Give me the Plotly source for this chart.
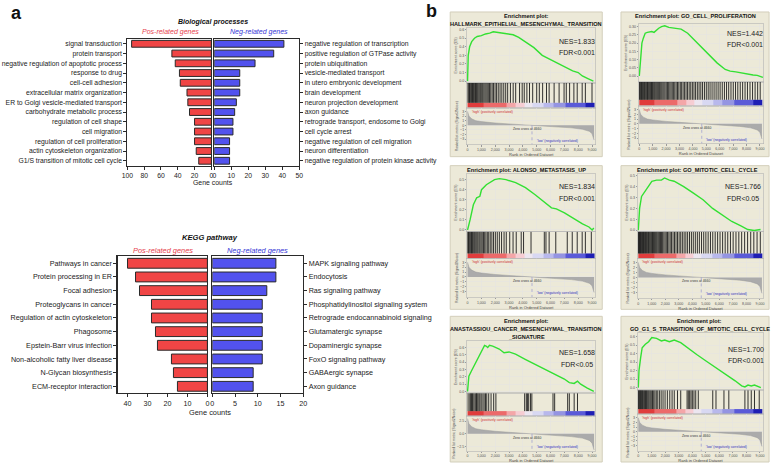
import plotly.graph_objects as go

W, H = 778, 465

# ---------------- Panel a data ----------------
bp_pos_terms = ["signal transduction", "protein transport", "negative regulation of apoptotic process",
                "response to drug", "cell-cell adhesion", "extracellular matrix organization",
                "ER to Golgi vesicle-mediated transport", "carbohydrate metabolic process",
                "regulation of cell shape", "cell migration", "regulation of cell proliferation",
                "actin cytoskeleton organization", "G1/S transition of mitotic cell cycle"]
bp_pos_counts = [95, 47, 43, 38, 37, 29, 28, 26, 20, 20, 20, 18, 15]
bp_neg_terms = ["negative regulation of transcription", "positive regulation of GTPase activity",
                "protein ubiquitination", "vesicle-mediated transport", "in utero embryonic development",
                "brain development", "neuron projection development", "axon guidance",
                "retrograde transport, endosome to Golgi", "cell cycle arrest",
                "negative regulation of cell migration", "neuron differentiation",
                "negative regulation of protein kinase activity"]
bp_neg_counts = [41, 35, 24, 15, 15, 15, 13, 12, 11, 11, 9, 9, 9]

kegg_pos_terms = ["Pathways in cancer", "Protein processing in ER", "Focal adhesion",
                  "Proteoglycans in cancer", "Regulation of actin cytoskeleton", "Phagosome",
                  "Epstein-Barr virus infection", "Non-alcoholic fatty liver disease",
                  "N-Glycan biosynthesis", "ECM-receptor interaction"]
kegg_pos_counts = [40, 36, 34, 28, 28, 26, 25, 18, 17, 15]
kegg_neg_terms = ["MAPK signaling pathway", "Endocytosis", "Ras signaling pathway",
                  "Phosphatidylinositol signaling system", "Retrograde endocannabinoid signaling",
                  "Glutamatergic synapse", "Dopaminergic synapse", "FoxO signaling pathway",
                  "GABAergic synapse", "Axon guidance"]
kegg_neg_counts = [14, 14, 12, 11, 11, 11, 11, 11, 9, 9]

bp_left_ticks = [100, 80, 60, 40, 20, 0]
bp_right_ticks = [0, 10, 20, 30, 40, 50]
kegg_left_ticks = [40, 30, 20, 10, 0]
kegg_right_ticks = [0, 5, 10, 15, 20]

# ---------------- Panel b (GSEA) data ----------------
gsea_titles = [
    ["Enrichment plot:", "HALLMARK_EPITHELIAL_MESENCHYMAL_TRANSITION"],
    ["Enrichment plot: GO_CELL_PROLIFERATION"],
    ["Enrichment plot: ALONSO_METASTASIS_UP"],
    ["Enrichment plot: GO_MITOTIC_CELL_CYCLE"],
    ["Enrichment plot:", "ANASTASSIOU_CANCER_MESENCHYMAL_TRANSITION", "_SIGNATURE"],
    ["Enrichment plot:", "GO_G1_S_TRANSITION_OF_MITOTIC_CELL_CYCLE"],
]
gsea_nes = ["NES=1.833", "NES=1.442", "NES=1.834", "NES=1.766", "NES=1.658", "NES=1.700"]
gsea_fdr = ["FDR<0.001", "FDR<0.001", "FDR<0.001", "FDR<0.05", "FDR<0.05", "FDR<0.001"]

es1_rank = [0, 20, 50, 150, 300, 500, 700, 1000, 1300, 1600, 1860, 2100, 2500, 3000, 3300, 3700,
            4200, 4800, 5400, 6000, 6600, 7100, 7600, 8000, 8300, 8700, 9100]
es1_score = [0, 0.15, 0.3, 0.4, 0.46, 0.5, 0.52, 0.53, 0.55, 0.56, 0.575, 0.57, 0.56, 0.55, 0.54, 0.51,
             0.46, 0.39, 0.30, 0.25, 0.2, 0.16, 0.12, 0.1, 0.06, 0.03, 0.0]
es2_rank = [0, 100, 195, 300, 440, 600, 930, 1100, 1290, 1450, 1660, 1900, 2200, 2630, 3120, 3610,
            4340, 5070, 5800, 6410, 6780, 7200, 7760, 8200, 8490, 8800, 9220]
es2_score = [0, 0.12, 0.2, 0.23, 0.26, 0.265, 0.27, 0.265, 0.28, 0.29, 0.30, 0.305, 0.295, 0.29, 0.285,
             0.26, 0.2, 0.14, 0.08, 0.04, 0.03, 0.025, 0.016, 0.013, 0.006, 0.004, -0.008]
es3_rank = [0, 70, 190, 420, 660, 890, 1010, 1360, 1600, 1950, 2300, 2780, 3480, 4190, 4890, 5600,
            6070, 6420, 7010, 7720, 8310, 8780, 9010, 9130]
es3_score = [0, 0.05, 0.105, 0.25, 0.32, 0.335, 0.40, 0.45, 0.47, 0.50, 0.51, 0.50, 0.47, 0.42, 0.35,
             0.27, 0.22, 0.21, 0.17, 0.11, 0.06, 0.03, 0.0, 0.02]
es4_rank = [0, 95, 240, 520, 760, 1000, 1350, 1710, 1940, 2300, 2650, 3360, 4080, 4790, 5500, 6210,
            6920, 7630, 8100, 8580, 9050]
es4_score = [0, 0.2, 0.31, 0.36, 0.40, 0.45, 0.46, 0.46, 0.48, 0.46, 0.45, 0.40, 0.34, 0.28, 0.2, 0.14,
             0.08, 0.037, 0.006, -0.003, 0.006]
es5_rank = [0, 95, 280, 520, 755, 990, 1230, 1340, 1460, 1580, 1820, 2290, 2640, 3000, 3470, 4170,
            4880, 5590, 6300, 7000, 7360, 7710, 7950, 8180, 8660, 9130]
es5_score = [0, 0.21, 0.28, 0.37, 0.46, 0.55, 0.63, 0.62, 0.60, 0.63, 0.62, 0.58, 0.53, 0.54, 0.51,
             0.44, 0.37, 0.30, 0.24, 0.17, 0.12, 0.11, 0.14, 0.10, 0.045, 0.0]
es6_rank = [0, 50, 170, 285, 520, 760, 1000, 1350, 1710, 1950, 2300, 2660, 3140, 3610, 4320, 5040,
            5750, 6460, 7170, 7650, 7890, 8120, 8360, 8600, 9070]
es6_score = [0, 0.2, 0.35, 0.47, 0.51, 0.54, 0.59, 0.58, 0.55, 0.56, 0.54, 0.56, 0.53, 0.47, 0.39,
             0.31, 0.235, 0.157, 0.08, 0.02, 0.008, 0.03, 0.02, 0.03, 0.0]

hits1 = [30, 90, 140, 190, 250, 300, 360, 420, 470, 530, 580, 640, 700, 760, 830, 900, 960, 1030, 1100,
         1180, 1260, 1340, 1420, 1500, 1590, 1680, 1780, 1880, 1990, 2100, 2220, 2350, 2480, 2620, 2760,
         2900, 3100, 3300, 3480, 3760, 3950, 4100, 4290, 4480, 4710, 5000, 5190, 5430, 5710, 5900, 6260,
         6620, 6980, 7140, 7380, 7690, 7930, 8290, 8520, 9000]
hits2 = [20, 70, 120, 170, 220, 270, 330, 380, 440, 500, 560, 610, 670, 730, 790, 850, 910, 980, 1040,
         1110, 1170, 1240, 1310, 1380, 1450, 1520, 1600, 1680, 1760, 1840, 1920, 2010, 2100, 2190, 2280,
         2370, 2460, 2560, 2650, 2750, 2850, 2950, 3060, 3160, 3270, 3380, 3490, 3600, 3720, 3840, 3960,
         4080, 4200, 4330, 4460, 4590, 4720, 4860, 5000, 5140, 5280, 5430, 5580, 5730, 5880, 6030, 6190,
         6350, 6510, 6670, 6840, 7010, 7180, 7350, 7530, 7710, 7890, 8070, 8260, 8450, 8640, 8830, 9020]
hits3 = [20, 70, 120, 180, 240, 290, 350, 410, 480, 540, 610, 680, 750, 830, 900, 980, 1060, 1150, 1240,
         1330, 1430, 1530, 1640, 1760, 1880, 2010, 2150, 2300, 2460, 2640, 2800, 3050, 3290, 3520, 3880,
         4050, 4590, 5550, 5670, 5900, 6380, 7210, 7570, 7930, 8290, 8520, 8950]
hits4 = [10, 50, 90, 130, 170, 210, 260, 300, 350, 390, 440, 490, 540, 590, 640, 700, 750, 810, 870,
         930, 990, 1050, 1120, 1190, 1260, 1330, 1400, 1480, 1560, 1640, 1720, 1800, 1890, 1980, 2070,
         2160, 2260, 2360, 2460, 2570, 2680, 2790, 2900, 3020, 3140, 3260, 3390, 3520, 3650, 3790, 3930,
         4070, 4220, 4370, 4520, 4680, 4840, 5000, 5170, 5340, 5510, 5690, 5870, 6050, 6240, 6430, 6620,
         6820, 7020, 7230, 7440, 7650, 7870, 8090, 8320, 8550, 8790, 9030]
hits5 = [40, 165, 230, 280, 350, 400, 480, 590, 640, 680, 750, 830, 900, 990, 1110, 1200, 1300, 1390,
         1530, 1700, 1890, 2050, 4130, 4250, 4330, 4420, 4550, 4650, 6180, 6300, 7240, 7360, 7710, 7950]
hits6 = [20, 60, 110, 150, 200, 250, 300, 350, 410, 470, 530, 600, 660, 730, 800, 880, 960, 1050, 1140,
         1230, 1330, 1440, 1560, 1690, 1830, 1980, 2150, 2330, 2500, 2660, 2900, 3140, 3610, 3700, 3800,
         3900, 4000, 4120, 4250, 4440, 5510, 5750, 6340, 6700, 7890, 8120, 8360, 8600, 8950]

# ranked list metric (same ranked dataset for all plots)
metric_rank = [0, 30, 100, 300, 600, 1000, 1500, 2000, 3000, 4000, 4660, 5500, 6500, 7500, 8300, 8800,
               9000, 9100, 9150]
metric_value = [3.0, 2.5, 2.0, 1.4, 1.0, 0.8, 0.6, 0.5, 0.3, 0.12, 0.0, -0.15, -0.35, -0.55, -0.85,
                -1.3, -1.8, -2.6, -3.2]
zero_cross = 4660
# colour bar blocks of the ranked list (edges in rank)
cb_edges = [0, 1150, 2800, 3500, 4100, 4700, 5500, 6200, 7100, 8500, 9150]
cb_colors = ["#E03C3C", "#EC6A6A", "#F4A6A8", "#F6CDD3", "#ECE6F0", "#D8D8F2", "#B8B8EC",
             "#9494E2", "#5A5AD8", "#1E1EB4"]

# ---------------- Figure helpers ----------------
FONT = "Liberation Sans, Arial, sans-serif"
fig = go.Figure()
layout_axes = {}
shapes = []
annotations = []
counter = [0]


def new_axes(x0, x1, y0, y1, xopts, yopts):
    counter[0] += 1
    n = counter[0]
    xname = "xaxis" if n == 1 else f"xaxis{n}"
    yname = "yaxis" if n == 1 else f"yaxis{n}"
    xr = "x" if n == 1 else f"x{n}"
    yr = "y" if n == 1 else f"y{n}"
    xo = dict(domain=[x0 / W, x1 / W], anchor=yr)
    xo.update(xopts)
    yo = dict(domain=[1 - y1 / H, 1 - y0 / H], anchor=xr)
    yo.update(yopts)
    layout_axes[xname] = xo
    layout_axes[yname] = yo
    return xr, yr


def text(x, y, s, size, color="#222", xanchor="center", **kw):
    annotations.append(dict(x=x / W, y=1 - y / H, xref="paper", yref="paper", text=s, showarrow=False,
                            xanchor=xanchor, yanchor="middle",
                            font=dict(size=size, color=color, family=FONT), **kw))


RED = "#F04545"
BLUE = "#5252EE"
RED_T = "#E63E4C"
BLUE_T = "#3535D6"
LINE = "#2a2a2a"


def bar_block(pos_terms, pos_counts, neg_terms, neg_counts, lx, rx, ytop, ybot,
              lticks, lmax, rticks, rmax, fs, bw):
    common_x = dict(ticks="outside", ticklen=3, tickcolor=LINE, showline=True, mirror=True,
                    linecolor=LINE, linewidth=1.1, showgrid=False, zeroline=False,
                    tickfont=dict(size=fs, color="#222", family=FONT))
    common_y = dict(type="category", autorange="reversed", ticks="outside", ticklen=3, tickcolor=LINE,
                    showline=True, mirror=True, linecolor=LINE, linewidth=1.1, showgrid=False,
                    tickfont=dict(size=fs, color="#222", family=FONT))
    xa, ya = new_axes(lx[0], lx[1], ytop, ybot, dict(range=[lmax, 0], tickvals=lticks, **common_x),
                      dict(side="left", **common_y))
    fig.add_trace(go.Bar(y=pos_terms, x=pos_counts, orientation="h", width=bw,
                         marker=dict(color=RED, line=dict(color=LINE, width=1)),
                         xaxis=xa, yaxis=ya, hoverinfo="skip"))
    xa, ya = new_axes(rx[0], rx[1], ytop, ybot, dict(range=[0, rmax], tickvals=rticks, **common_x),
                      dict(side="right", **common_y))
    fig.add_trace(go.Bar(y=neg_terms, x=neg_counts, orientation="h", width=bw,
                         marker=dict(color=BLUE, line=dict(color=LINE, width=1)),
                         xaxis=xa, yaxis=ya, hoverinfo="skip"))


# ---------------- Panel a ----------------
text(11, 13, "<b>a</b>", 18, "#111")
text(210, 22, "<b><i>Biological processes</i></b>", 7, "#111")
text(167, 32, "<i>Pos-related genes</i>", 7, RED_T)
text(256, 32, "<i>Neg-related genes</i>", 7, BLUE_T)
bar_block(bp_pos_terms, bp_pos_counts, bp_neg_terms, bp_neg_counts, (123, 208), (211, 297), 39, 166,
          bp_left_ticks, 100, bp_right_ticks, 50, 6.8, 0.7)
text(210, 183, "Gene counts", 6.9)

text(207, 238, "<b><i>KEGG pathway</i></b>", 7.6, "#111")
text(159, 251, "<i>Pos-related genes</i>", 7.4, RED_T)
text(255, 251, "<i>Neg-related genes</i>", 7.4, BLUE_T)
bar_block(kegg_pos_terms, kegg_pos_counts, kegg_neg_terms, kegg_neg_counts, (113, 204), (209, 301), 257, 394,
          kegg_left_ticks, 45, kegg_right_ticks, 20, 7.2, 0.72)
text(207, 413, "Gene counts", 7.4)

# ---------------- Panel b ----------------
text(431, 11, "<b>b</b>", 18, "#111")

gsea_data = [
    dict(es_rank=es1_rank, es_score=es1_score, hits=hits1),
    dict(es_rank=es2_rank, es_score=es2_score, hits=hits2),
    dict(es_rank=es3_rank, es_score=es3_score, hits=hits3),
    dict(es_rank=es4_rank, es_score=es4_score, hits=hits4),
    dict(es_rank=es5_rank, es_score=es5_score, hits=hits5),
    dict(es_rank=es6_rank, es_score=es6_score, hits=hits6),
]
# layout of each GSEA panel (pixels)
gsea_layout = [
    dict(box=(450, 12, 604, 157), px=(467, 597), es=(28, 83), hit=(83, 108), cb=0.2, met=(108, 145),
         es_range=[-0.02, 0.62], es_dtick=0.1, es_fmt=".1f", tys=[16, 24.5], tx=527,
         nes=(578, 41.7), fdr=(578, 52.7), met_range=[-4.2, 3.8], met_ticks=[-3, -2, -1, 0, 1, 2, 3], met_fmt="d"),
    dict(box=(623, 12, 773, 157), px=(641, 767), es=(24, 82), hit=(82, 106), cb=0.25, met=(106, 144),
         es_range=[-0.035, 0.316], es_dtick=0.05, es_fmt=".2f", tys=[16], tx=698,
         nes=(749, 33.3), fdr=(749, 44.3), met_range=[-4.2, 3.8], met_ticks=[-3, -2, -1, 0, 1, 2, 3], met_fmt="d"),
    dict(box=(450, 166, 604, 310), px=(467, 597), es=(174, 232), hit=(232, 259), cb=0.185, met=(259, 298),
         es_range=[-0.015, 0.56], es_dtick=0.1, es_fmt=".1f", tys=[170.3], tx=527,
         nes=(578, 187.3), fdr=(578, 199), met_range=[-4.2, 3.8], met_ticks=[-3, -2, -1, 0, 1, 2, 3], met_fmt="d"),
    dict(box=(623, 166, 773, 310), px=(640, 767), es=(174, 232), hit=(232, 259), cb=0.185, met=(259, 299),
         es_range=[-0.012, 0.52], es_dtick=0.1, es_fmt=".1f", tys=[170.3], tx=700,
         nes=(746.7, 187.3), fdr=(746.7, 199), met_range=[-4.2, 3.8], met_ticks=[-3, -2, -1, 0, 1, 2, 3], met_fmt="d"),
    dict(box=(450, 317, 604, 463), px=(467, 597), es=(342, 394), hit=(394, 417), cb=0.217, met=(417, 452),
         es_range=[-0.023, 0.686], es_dtick=0.1, es_fmt=".1f", tys=[321.7, 329.5, 337.5], tx=527,
         nes=(578, 353.3), fdr=(578, 365), met_range=[-3.4, 3.5], met_ticks=[-2.5, 0, 2.5], met_fmt=".1f"),
    dict(box=(623, 317, 773, 463), px=(640, 767), es=(334, 391), hit=(391, 415), cb=0.21, met=(415, 452),
         es_range=[-0.03, 0.64], es_dtick=0.1, es_fmt=".1f", tys=[321.7, 330], tx=703,
         nes=(750, 350.7), fdr=(750, 361), met_range=[-4.2, 3.8], met_ticks=[-3, -2, -1, 0, 1, 2, 3], met_fmt="d"),
]

XR = [-40, 9240]
GRID = "#E3E3E3"
FRAME = "#B4B4B4"
TICKF = dict(size=3.6, color="#555", family=FONT)

n_cb = len(cb_colors)
cscale = []
for i, c in enumerate(cb_colors):
    cscale.append([i / n_cb, c])
    cscale.append([(i + 1) / n_cb, c])

for k, (d, g) in enumerate(zip(gsea_data, gsea_layout)):
    bx0, by0, bx1, by1 = g["box"]
    shapes.append(dict(type="rect", xref="paper", yref="paper", x0=bx0 / W, x1=bx1 / W,
                       y0=1 - by1 / H, y1=1 - by0 / H, fillcolor="#ECE9D8",
                       line=dict(color="#D3CFBB", width=1), layer="below"))
    for line_txt, ty in zip(gsea_titles[k], g["tys"]):
        text(g["tx"], ty, "<b>" + line_txt + "</b>", 5.6, "#111")
    px0, px1 = g["px"]
    frame = dict(showline=True, mirror=True, linecolor=FRAME, linewidth=0.6, zeroline=False)

    # enrichment score
    xa, ya = new_axes(px0, px1, g["es"][0], g["es"][1],
                      dict(range=XR, tick0=0, dtick=1000, showgrid=True, gridcolor=GRID, gridwidth=0.5,
                           showticklabels=False, ticks="", **frame),
                      dict(range=g["es_range"], tick0=0, dtick=g["es_dtick"], tickformat=g["es_fmt"],
                           showgrid=True, gridcolor=GRID, gridwidth=0.5, tickfont=TICKF, ticks="outside",
                           ticklen=1.5, tickcolor="#999",
                           title=dict(text="Enrichment score (ES)", font=dict(size=3.6, color="#555", family=FONT),
                                      standoff=1), **frame))
    fig.add_trace(go.Scatter(x=d["es_rank"], y=d["es_score"], mode="lines",
                             line=dict(color="#33E033", width=1.4), xaxis=xa, yaxis=ya, hoverinfo="skip"))
    text(g["nes"][0], g["nes"][1], gsea_nes[k], 7, "#222")
    text(g["fdr"][0], g["fdr"][1], gsea_fdr[k], 7, "#222")

    # hits + colour bar
    xa, ya = new_axes(px0, px1, g["hit"][0], g["hit"][1],
                      dict(range=XR, showgrid=False, showticklabels=False, ticks="", **frame),
                      dict(range=[0, 1], showgrid=False, showticklabels=False, ticks="", **frame))
    hx, hy = [], []
    for h in d["hits"]:
        hx += [h, h, None]
        hy += [g["cb"], 1, None]
    fig.add_trace(go.Scatter(x=hx, y=hy, mode="lines", line=dict(color="#1c1c1c", width=0.9),
                             xaxis=xa, yaxis=ya, hoverinfo="skip"))
    fig.add_trace(go.Heatmap(x=cb_edges, y=[0, g["cb"]], z=[list(range(n_cb))], colorscale=cscale,
                             zmin=-0.5, zmax=n_cb - 0.5, showscale=False, xaxis=xa, yaxis=ya,
                             hoverinfo="skip"))

    # ranked list metric
    xa, ya = new_axes(px0, px1, g["met"][0], g["met"][1],
                      dict(range=XR, tick0=0, dtick=1000, tickformat=",d", showgrid=True, gridcolor=GRID,
                           gridwidth=0.5, tickfont=TICKF, ticks="outside", ticklen=1.5, tickcolor="#999",
                           title=dict(text="Rank in Ordered Dataset", font=dict(size=4, color="#444", family=FONT),
                                      standoff=1), **frame),
                      dict(range=g["met_range"], tickvals=g["met_ticks"], tickformat=g["met_fmt"],
                           showgrid=True, gridcolor=GRID, gridwidth=0.5, tickfont=TICKF, ticks="outside",
                           ticklen=1.5, tickcolor="#999",
                           title=dict(text="Ranked list metric (Signal2Noise)",
                                      font=dict(size=3.4, color="#555", family=FONT), standoff=1), **frame))
    fig.add_trace(go.Scatter(x=metric_rank, y=metric_value, mode="lines", fill="tozeroy",
                             fillcolor="#ABABAB", line=dict(color="#9C9C9C", width=0.5),
                             xaxis=xa, yaxis=ya, hoverinfo="skip"))
    fig.add_trace(go.Scatter(x=[zero_cross, zero_cross], y=[0, g["met_range"][0]], mode="lines",
                             line=dict(color="#8C8CD0", width=0.6, dash="dot"),
                             xaxis=xa, yaxis=ya, hoverinfo="skip"))
    annotations.append(dict(x=150, y=g["met_range"][1], xref=xa, yref=ya, text="'high' (positively correlated)",
                            showarrow=False, xanchor="left", yanchor="top",
                            font=dict(size=3.4, color="#D03030", family=FONT)))
    annotations.append(dict(x=4300, y=0, xref=xa, yref=ya, text="Zero cross at 4660",
                            showarrow=False, xanchor="center", yanchor="top",
                            font=dict(size=3.4, color="#333", family=FONT)))
    annotations.append(dict(x=6500, y=g["met_range"][0], xref=xa, yref=ya, text="'low' (negatively correlated)",
                            showarrow=False, xanchor="center", yanchor="bottom",
                            font=dict(size=3.4, color="#3030C0", family=FONT)))

fig.update_layout(width=W, height=H, margin=dict(l=0, r=0, t=0, b=0, pad=0), paper_bgcolor="white",
                  plot_bgcolor="white", showlegend=False, font=dict(family=FONT, color="#222"),
                  shapes=shapes, annotations=annotations, **layout_axes)
fig.write_html("out.html", config={"displayModeBar": False, "staticPlot": True},
               post_script="document.body.style.margin='0px';document.body.style.overflow='hidden';")
